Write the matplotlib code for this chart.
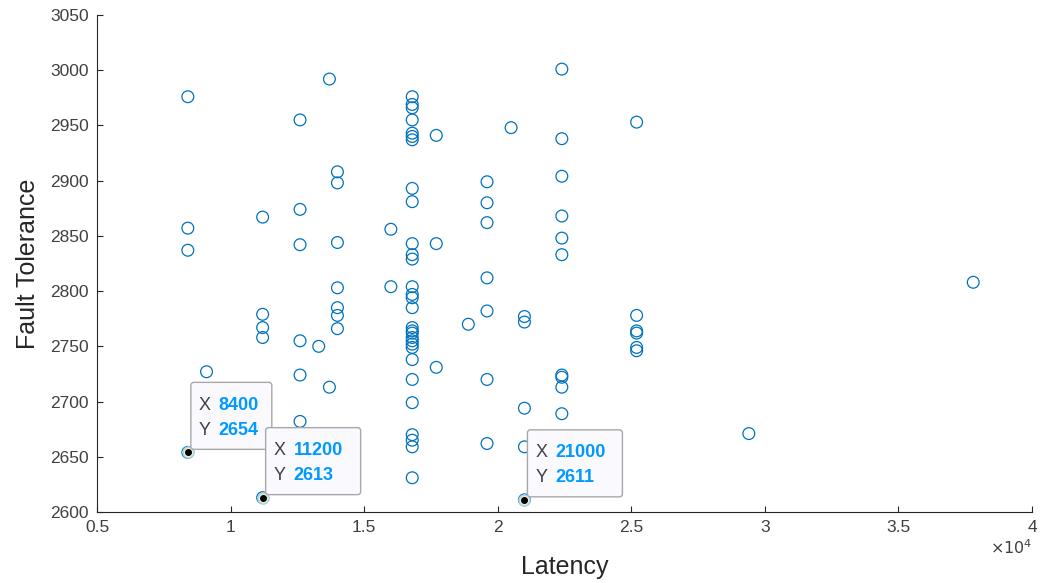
import matplotlib
matplotlib.use("Agg")
import matplotlib.pyplot as plt
from matplotlib.patches import FancyBboxPatch
from matplotlib.transforms import Affine2D, ScaledTranslation

plt.rcParams["font.family"] = ["Liberation Sans", "DejaVu Sans"]

AXIS_GRAY = "#262626"
MARKER_BLUE = "#0072BD"
TIP_BLUE = "#0099FF"

# Latency (x) per group of samples, with the fault tolerance readings at that latency
latency_groups = [8400, 9100, 11200, 12600, 13300, 13700, 14000, 16000, 16800,
                  17700, 18900, 19600, 20500, 21000, 22400, 25200, 29400, 37800]
tolerance_groups = [
    [2976, 2857, 2837, 2654],
    [2727],
    [2867, 2779, 2767, 2758, 2613],
    [2955, 2874, 2842, 2755, 2724, 2682],
    [2750],
    [2992, 2713],
    [2908, 2898, 2844, 2803, 2785, 2778, 2766],
    [2856, 2804],
    [2976, 2969, 2966, 2955, 2943, 2940, 2937, 2893, 2881, 2843, 2833, 2829,
     2804, 2797, 2794, 2785, 2767, 2764, 2762, 2758, 2755, 2752, 2749, 2738,
     2720, 2699, 2670, 2665, 2659, 2631],
    [2941, 2843, 2731],
    [2770],
    [2899, 2880, 2862, 2812, 2782, 2720, 2662],
    [2948],
    [2777, 2772, 2694, 2659, 2611],
    [3001, 2938, 2904, 2868, 2848, 2833, 2724, 2722, 2713, 2689],
    [2953, 2778, 2764, 2762, 2749, 2746],
    [2671],
    [2808],
]

# data tips pinned on the plot
tip_x = [8400, 11200, 21000]
tip_y = [2654, 2613, 2611]

latency = [x for x, ys in zip(latency_groups, tolerance_groups) for _ in ys]
tolerance = [y for ys in tolerance_groups for y in ys]

fig = plt.figure(figsize=(10.42, 5.83), dpi=100)
ax = fig.add_axes([97 / 1042, 1 - 512 / 583, 935 / 1042, 497 / 583])

ax.scatter(latency, tolerance, s=72, facecolors="none", edgecolors=MARKER_BLUE,
           linewidths=0.9, zorder=2)

ax.set_xlim(5000, 40000)
ax.set_ylim(2600, 3050)
ax.set_xticks([5000, 10000, 15000, 20000, 25000, 30000, 35000, 40000])
ax.set_xticklabels(["0.5", "1", "1.5", "2", "2.5", "3", "3.5", "4"])
ax.set_yticks(range(2600, 3051, 50))

for side in ("top", "right"):
    ax.spines[side].set_visible(False)
for side in ("left", "bottom"):
    ax.spines[side].set_color(AXIS_GRAY)
    ax.spines[side].set_linewidth(0.8)
ax.tick_params(direction="in", length=4, width=0.8, colors=AXIS_GRAY,
               labelsize=12.5, pad=6, labelcolor="#404040")

ax.set_xlabel("Latency", fontsize=18, color=AXIS_GRAY, labelpad=14)
ax.set_ylabel("Fault Tolerance", fontsize=18, color=AXIS_GRAY, labelpad=7)
ax.text(1.0, -0.053, r"$\times10^{4}$", transform=ax.transAxes, ha="right",
        va="top", fontsize=11.5, color="#404040")

# data tips: box in pixel offsets anchored at the data point
for x, y in zip(tip_x, tip_y):
    anchor = Affine2D() + ScaledTranslation(x, y, ax.transData)
    x_text = f"{x}"
    width = 25 + 14 * len(x_text)
    box = FancyBboxPatch((3, 3), width, 67,
                         boxstyle="round,pad=0,rounding_size=3",
                         facecolor="#f9f9fe", edgecolor="#a8a8a8",
                         linewidth=1.0, transform=anchor, zorder=5,
                         clip_on=False)
    ax.add_patch(box)
    for row, (name, value) in enumerate((("X", x_text), ("Y", f"{y}"))):
        dy = 3 + 44 - 25 * row
        ax.text(11, dy, name, transform=anchor, fontsize=13, color="#404040",
                ha="left", va="center", zorder=6)
        ax.text(31, dy, value, transform=anchor, fontsize=13, color=TIP_BLUE,
                fontweight="bold", ha="left", va="center", zorder=6)
    ax.plot([x], [y], "o", ms=8, mfc="#f3ecc4", mec="#9fd2f0", mew=1.0, zorder=4)
    ax.plot([x], [y], "o", ms=4, color="black", zorder=4)

fig.savefig("out.png", dpi=100)
